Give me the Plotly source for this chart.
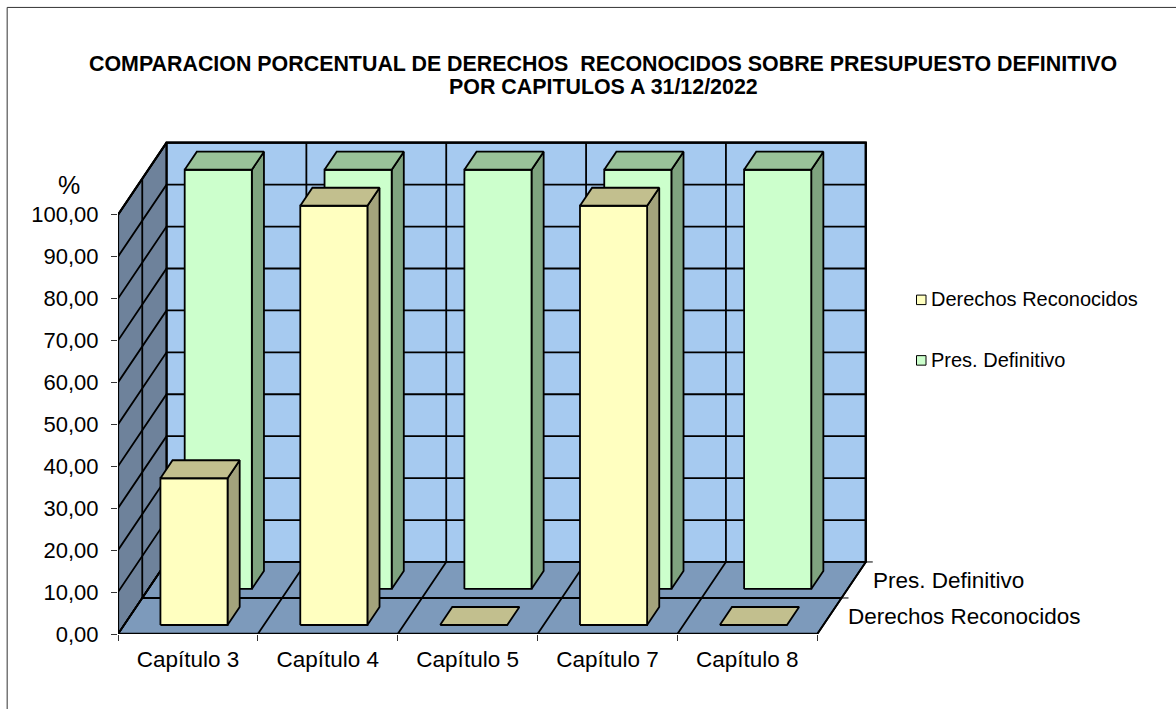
import plotly.graph_objects as go

# ---------- data ----------
categories = ["Capítulo 3", "Capítulo 4", "Capítulo 5", "Capítulo 7", "Capítulo 8"]
derechos_reconocidos = [35.0, 100.0, 0.0, 100.0, 0.0]
pres_definitivo = [100.0, 100.0, 100.0, 100.0, 100.0]
y_ticks = [0, 10, 20, 30, 40, 50, 60, 70, 80, 90, 100]
y_tick_labels = ["0,00", "10,00", "20,00", "30,00", "40,00", "50,00", "60,00", "70,00", "80,00", "90,00", "100,00"]
series_names = ["Derechos Reconocidos", "Pres. Definitivo"]
title_lines = ["COMPARACION PORCENTUAL DE DERECHOS  RECONOCIDOS SOBRE PRESUPUESTO DEFINITIVO",
               "POR CAPITULOS A 31/12/2022"]

# ---------- page geometry (pixels) ----------
W, H = 1176, 709
X0_PX, Y0_PX = 118.3, 633.7      # origin of the front edge of the floor
CAT_PX = 139.8                   # one category
UNIT_PX = 4.19                   # one percentage point
DEPTH_DX_PX, DEPTH_DY_PX = 48.5, 72.0
PLOT_RIGHT_PX, PLOT_TOP_PX = 900.0, 120.0

DX = DEPTH_DX_PX / CAT_PX        # depth shift in category units
DY = DEPTH_DY_PX / UNIT_PX       # depth shift in percentage units
N = len(categories)
TOP = 100


def project(x, y, d):
    """Oblique projection of (category, value, depth 0..1) on the 2D axes."""
    return x + d * DX, y + d * DY


fig = go.Figure()


def poly(points, fill=None, width=1.8, color="#000000"):
    xs, ys = zip(*[project(*p) for p in points])
    fig.add_trace(go.Scatter(
        x=list(xs), y=list(ys), mode="lines",
        fill="toself" if fill else "none", fillcolor=fill,
        line=dict(color=color, width=width),
        hoverinfo="skip", showlegend=False, cliponaxis=False))


# walls and floor
WALL, SIDE_WALL, FLOOR = "#A6CAF0", "#6E829B", "#7D9ABB"
poly([(0, 0, 1), (N, 0, 1), (N, TOP, 1), (0, TOP, 1), (0, 0, 1)], WALL)
poly([(0, 0, 0), (0, 0, 1), (0, TOP, 1), (0, TOP, 0), (0, 0, 0)], SIDE_WALL)
poly([(0, 0, 0), (N, 0, 0), (N, 0, 1), (0, 0, 1), (0, 0, 0)], FLOOR)

# gridlines
for v in y_ticks:
    poly([(0, v, 0), (0, v, 1), (N, v, 1)])
for i in range(N + 1):
    poly([(i, 0, 0), (i, 0, 1), (i, TOP, 1)])
poly([(0, 0, 0.5), (N, 0, 0.5)])
poly([(N, 0, 0.5), (N + 0.05, 0, 0.5)], width=1)
poly([(N, 0, 1), (N + 0.05, 0, 1)], width=1)
poly([(0, 0, 0.5), (0, TOP, 0.5)])
poly([(0, 0, 0), (N, 0, 0)], width=2.4)
poly([(0, 0, 0), (0, TOP, 0)], width=2.2)
poly([(0, TOP, 0), (0, TOP, 1), (N, TOP, 1), (N, 0, 1)], width=2.2)


def bar(i, value, d0, d1, face, top, side):
    half = 0.24
    c = i + 0.5
    l, r = c - half, c + half
    if value > 0:
        poly([(r, 0, d0), (r, 0, d1), (r, value, d1), (r, value, d0), (r, 0, d0)], side)
        poly([(l, 0, d0), (r, 0, d0), (r, value, d0), (l, value, d0), (l, 0, d0)], face)
    poly([(l, value, d0), (r, value, d0), (r, value, d1), (l, value, d1), (l, value, d0)], top)


for i, v in enumerate(pres_definitivo):
    bar(i, v, 0.625, 0.875, "#CCFFCC", "#99C299", "#7FA37F")
for i, v in enumerate(derechos_reconocidos):
    bar(i, v, 0.125, 0.375, "#FFFFC0", "#C2BF8E", "#A3A37C")

FONT = "Liberation Sans, Arial, sans-serif"


# paper coordinates are relative to the plot area
def px(x):
    return (x - X0_PX) / (PLOT_RIGHT_PX - X0_PX)


def py(y):
    return (Y0_PX - y) / (Y0_PX - PLOT_TOP_PX)


def label(text, x, y, size, anchor="left", bold=False):
    fig.add_annotation(text=f"<b>{text}</b>" if bold else text, x=px(x), y=py(y),
                       xref="paper", yref="paper", xanchor=anchor, yanchor="middle",
                       showarrow=False, font=dict(family=FONT, size=size, color="#000000"))


label(title_lines[0], 603.5, 64.5, 21.4, "center", True)
label(title_lines[1], 603.5, 87, 21.4, "center", True)
label("%", 69.5, 184.5, 25, "center")
label(series_names[1], 871, 580, 22.5)
label(series_names[0], 846.5, 616, 22.5)
label(series_names[0], 929, 299, 20)
label(series_names[1], 929, 360, 20)

shapes = [
    dict(type="rect", xref="paper", yref="paper", x0=px(916.5), x1=px(926), y0=py(304.5), y1=py(295),
         fillcolor="#FFFFC0", line=dict(color="#000000", width=1)),
    dict(type="rect", xref="paper", yref="paper", x0=px(916.5), x1=px(926), y0=py(365), y1=py(355.5),
         fillcolor="#CCFFCC", line=dict(color="#000000", width=1)),
    dict(type="line", xref="paper", yref="paper", x0=px(7.5), x1=px(7.5), y0=py(7.5), y1=py(H),
         line=dict(color="#333333", width=1)),
    dict(type="line", xref="paper", yref="paper", x0=px(7.5), x1=px(W), y0=py(7.5), y1=py(7.5),
         line=dict(color="#333333", width=1)),
]

fig.update_layout(
    width=W, height=H, paper_bgcolor="#FFFFFF", plot_bgcolor="rgba(0,0,0,0)",
    showlegend=False, shapes=shapes, hovermode=False,
    margin=dict(l=X0_PX, r=W - PLOT_RIGHT_PX, t=PLOT_TOP_PX, b=H - Y0_PX, pad=0, autoexpand=False),
    font=dict(family=FONT, color="#000000"),
    xaxis=dict(range=[0, (PLOT_RIGHT_PX - X0_PX) / CAT_PX],
               tickvals=[i + 0.5 for i in range(N)], ticktext=categories,
               ticks="", showgrid=False, zeroline=False, showline=False,
               tickfont=dict(size=22.5), ticklabelstandoff=9,
               minor=dict(tickvals=list(range(N + 1)), ticks="outside", ticklen=6,
                          tickwidth=1, tickcolor="#333333", showgrid=False)),
    yaxis=dict(range=[0, (Y0_PX - PLOT_TOP_PX) / UNIT_PX],
               tickvals=y_ticks, ticktext=y_tick_labels,
               ticks="outside", ticklen=6, tickwidth=1, tickcolor="#333333",
               showgrid=False, zeroline=False, showline=False,
               tickfont=dict(size=22), ticklabelstandoff=8),
)

fig.write_html("out.html", config={"displayModeBar": False},
               post_script="document.body.style.margin='0';")
